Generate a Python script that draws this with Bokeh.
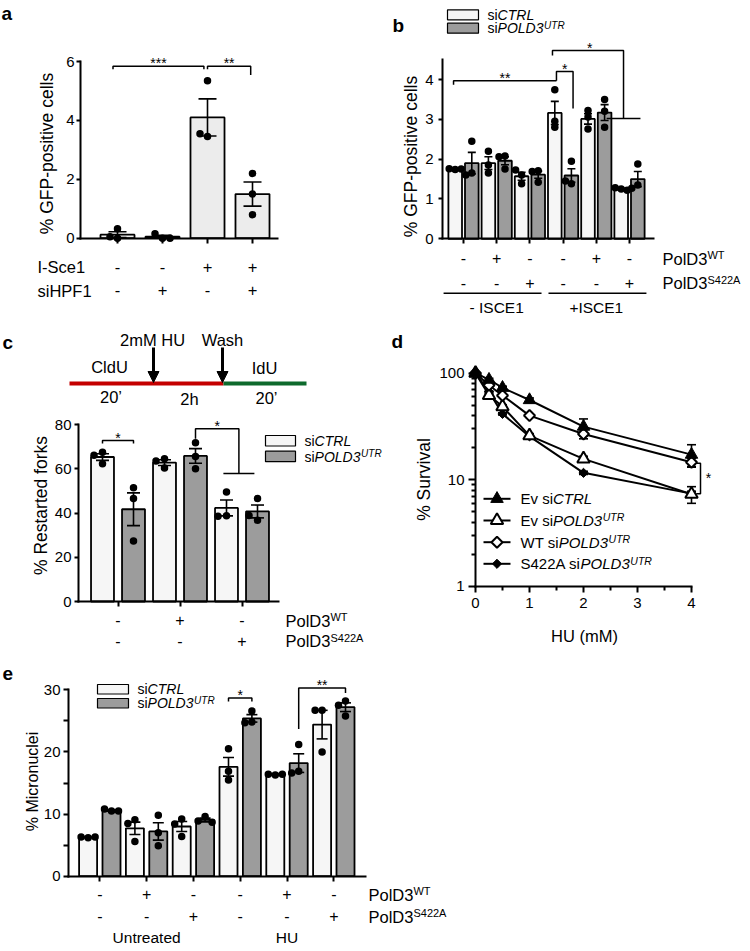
import math
from collections import defaultdict
from bokeh.plotting import figure
from bokeh.models import Range1d, LinearAxis, FixedTicker, LogScale, Arrow, NormalHead, ColumnDataSource
from bokeh.core.properties import value
from bokeh.embed import file_html
from bokeh.resources import INLINE

# ======================= DATA =======================
# (a) % GFP-positive cells
A_ISCE1 = ["-", "-", "+", "+"]
A_SIHPF1 = ["-", "+", "-", "+"]
A_MEAN = [0.12, 0.05, 4.10, 1.50]
A_SEM = [0.10, 0.05, 0.63, 0.41]
A_PTS = [[0.00, 0.32, 0.05], [0.00, 0.15, 0.00], [3.45, 5.35, 3.55], [1.50, 2.20, 0.80]]
A_TICKS = [0, 2, 4, 6]

# (b) % GFP-positive cells, siCTRL / siPOLD3 with PolD3 WT / S422A
B_WT = ["-", "+", "-", "-", "+", "-"]
B_S422A = ["-", "-", "+", "-", "-", "+"]
B_GROUPS = ["- ISCE1", "+ISCE1"]
B_CTRL_MEAN = [1.75, 1.90, 1.57, 3.16, 3.01, 1.25]
B_CTRL_SEM = [0.02, 0.16, 0.10, 0.29, 0.13, 0.02]
B_CTRL_PTS = [[1.74, 1.76, 1.75], [1.85, 2.20, 1.65], [1.60, 1.73, 1.38],
              [2.95, 3.74, 2.80], [3.22, 2.76, 3.06], [1.25, 1.28, 1.22]]
B_POLD3_MEAN = [1.90, 1.96, 1.61, 1.59, 3.17, 1.50]
B_POLD3_SEM = [0.27, 0.10, 0.09, 0.17, 0.20, 0.19]
B_POLD3_PTS = [[1.65, 2.45, 1.60], [2.08, 1.75, 2.06], [1.71, 1.42, 1.69],
               [1.38, 1.95, 1.45], [3.20, 3.50, 2.80], [1.35, 1.88, 1.27]]
B_TICKS = [0, 1, 2, 3, 4]

# (c) % Restarted forks
C_WT = ["-", "+", "-"]
C_S422A = ["-", "-", "+"]
C_CTRL_MEAN = [65.3, 62.8, 42.3]
C_CTRL_SEM = [1.5, 1.3, 3.6]
C_CTRL_PTS = [[67.5, 62.3, 66.1], [64.5, 60.3, 63.5], [49.5, 38.8, 38.5]]
C_POLD3_MEAN = [41.7, 65.8, 40.7]
C_POLD3_SEM = [7.4, 3.3, 2.9]
C_POLD3_PTS = [[51.4, 46.5, 27.3], [71.8, 65.5, 60.0], [46.5, 36.7, 38.9]]
C_TICKS = [0, 20, 40, 60, 80]

# (d) % Survival vs HU (mM)
D_HU = [0, 0.25, 0.5, 1, 2, 4]
D_EV_CTRL = [100, 87, 73, 56, 31.5, 17.2]
D_EV_CTRL_SEM = [0, 2.5, 2.5, 2.5, 5.7, 4.1]
D_EV_POLD3 = [100, 62, 48.6, 25.9, 15.7, 7.3]
D_EV_POLD3_SEM = [0, 2.0, 2.0, 1.2, 0.9, 1.3]
D_WT_POLD3 = [100, 77, 61.7, 40, 26.9, 14.6]
D_WT_POLD3_SEM = [0, 2.0, 2.0, 1.5, 2.7, 1.3]
D_S422A_POLD3 = [100, 67, 41.5, 25.5, 11.6, 7.4]
D_S422A_POLD3_SEM = [0, 1.0, 1.0, 1.0, 0.4, 0.4]
D_XTICKS = [0, 1, 2, 3, 4]
D_YTICKS = [1, 10, 100]

# (e) % Micronuclei
E_WT = ["-", "+", "-", "-", "+", "-"]
E_S422A = ["-", "-", "+", "-", "-", "+"]
E_GROUPS = ["Untreated", "HU"]
E_CTRL_MEAN = [6.25, 7.7, 8.0, 17.6, 16.4, 24.4]
E_CTRL_SEM = [0.05, 1.0, 0.8, 1.5, 0.1, 2.3]
E_CTRL_PTS = [[6.2, 6.3, 6.3], [9.1, 5.6, 8.5], [9.2, 6.4, 8.4],
              [20.5, 16.9, 15.5], [16.3, 16.4, 16.4], [26.7, 20.0, 26.7]]
E_POLD3_MEAN = [10.55, 7.2, 9.05, 25.4, 18.2, 27.2]
E_POLD3_SEM = [0.1, 1.4, 0.3, 0.6, 1.5, 0.7]
E_POLD3_PTS = [[10.5, 10.8, 10.5], [9.8, 7.0, 4.9], [9.6, 8.9, 8.7],
               [26.6, 24.8, 24.7], [21.2, 16.9, 16.6], [28.2, 27.5, 25.8]]
E_TICKS = [0, 10, 20, 30]
E_MINOR = [5, 15, 25]

# significance annotations (data units of each panel)
A_SIG = [([0.9, 0.9, 2.92, 2.92], [5.74, 5.84, 5.84, 5.74], 1.91, "***"),
         ([3.0, 3.0, 3.96, 3.96], [5.74, 5.84, 5.84, 5.54], 3.48, "**")]
B_SIG = [([0.7, 0.7, 3.8], [3.87, 3.97, 3.97], 2.25, "**"),
         ([3.8, 3.8, 4.3, 4.3], [3.97, 4.2, 4.2, 3.27], 4.05, "*"),
         ([3.68, 3.68, 5.82, 5.82], [4.6, 4.73, 4.73, 3.02], 4.8, "*")]
B_TBAR = ([5.31, 6.33], [3.02, 3.02])
C_SIG = [([0.75, 0.75, 1.25, 1.25], [71.4, 72.8, 72.8, 71.4], 1.0, "*"),
         ([2.25, 2.25, 2.95, 2.95], [73.6, 78.1, 78.1, 57.8], 2.6, "*")]
C_TBAR = ([2.7, 3.2], [57.8, 57.8])
E_SIG = [([3.75, 3.75, 4.25, 4.25], [28.1, 28.7, 28.7, 28.1], 4.0, "*"),
         ([5.25, 5.25, 6.25, 6.25], [23.7, 30.3, 30.3, 29.5], 5.75, "**")]

# ======================= LAYOUT =======================
W, H = 750, 948
OFF = 0
FONT = "Liberation Sans"
BLACK = "black"
FILL_A = "#ececec"
FILL_W = "#f6f6f6"
FILL_G = "#9c9c9c"
TICK = 15
BASE_FIX = 0.35   # rendered baseline sits this many em below the given y


def C(r):
    return r - OFF


p = figure(width=W, height=H, output_backend="svg", toolbar_location=None,
           x_range=Range1d(0, W), y_range=Range1d(H, 0),
           x_axis_type=None, y_axis_type=None, min_border=0)
p.outline_line_color = None
p.background_fill_color = "white"
p.border_fill_color = "white"

XR, YR, YS = {}, {}, {}


class Pan:
    def __init__(self, name, xv, xp, yv, yp, log=False):
        self.n = name
        self.log = log
        self.xk = (xp[1] - xp[0]) / (xv[1] - xv[0])
        self.xv0, self.xp0 = xv[0], xp[0]
        f = math.log10 if log else (lambda v: v)
        self.yk = (yp[1] - yp[0]) / (f(yv[1]) - f(yv[0]))
        self.yv0, self.yp0 = f(yv[0]), yp[0]
        XR[name + "x"] = Range1d(start=self.xd(OFF), end=self.xd(OFF + W))
        YR[name + "y"] = Range1d(start=self.yd(OFF + H), end=self.yd(OFF))
        if log:
            YS[name + "y"] = LogScale()

    def xd(self, r):
        return self.xv0 + (r - self.xp0) / self.xk

    def yd(self, r):
        v = self.yv0 + (r - self.yp0) / self.yk
        return 10 ** v if self.log else v

    def yr(self, v):
        f = math.log10(v) if self.log else v
        return self.yp0 + (f - self.yv0) * self.yk

    @property
    def kw(self):
        return dict(x_range_name=self.n + "x", y_range_name=self.n + "y")


CW = {" ": .278, "%": .889, "-": .333, "+": .584, "(": .333, ")": .333, "'": .191, "’": .222, "*": .389,
      "A": .667, "C": .722, "D": .722, "E": .667, "F": .611, "G": .778, "H": .722, "I": .278, "L": .556,
      "M": .833, "O": .778, "P": .667, "R": .722, "S": .667, "T": .611, "U": .722, "W": .944, "V": .667,
      "a": .556, "c": .5, "d": .556, "e": .556, "f": .278, "h": .556, "i": .222, "k": .5, "l": .222,
      "m": .833, "n": .556, "o": .556, "p": .556, "r": .333, "s": .5, "t": .278, "u": .556, "v": .5}


def tw(s, size):
    return sum(CW.get(ch, .556) for ch in s) * size


TXT = defaultdict(lambda: dict(x=[], y=[], text=[]))


def T(x, y, s, size, style="normal", align="left", base="alphabetic", angle=0.0, xr="default", yr="default"):
    """y is the wanted baseline (canvas px) for alphabetic texts."""
    if base == "alphabetic" and yr == "default":
        y -= BASE_FIX * size
    d = TXT[(size, style, align, base, angle, xr, yr)]
    d["x"].append(x)
    d["y"].append(y)
    d["text"].append(s)


def runs(x, yc, parts, align="left", xr="default"):
    """parts: (text, size, style, sup) ; yc = canvas y of the cap centre."""
    bs = parts[0][1]
    yb = yc + 0.358 * bs
    total = sum(tw(t, s) for t, s, st, sup in parts)
    if align == "center":
        x -= total / 2
    elif align == "right":
        x -= total
    for t, s, st, sup in parts:
        y = yb - 0.716 * bs - 1.5 + 0.716 * s if sup else yb
        T(x, y, t, s, st, "left", "alphabetic", xr=xr)
        x += tw(t, s) + (0.6 if st == "italic" and sup is False else 0)


def swarm(vals, ppu, d):
    placed, offs = [], []
    for v in vals:
        yp = v * ppu
        for o in (0, -d, d, -2 * d, 2 * d):
            if all((o - po) ** 2 + (yp - py) ** 2 >= (0.9 * d) ** 2 for po, py in placed):
                break
        placed.append((o, yp))
        offs.append(o)
    return offs


def bars(P, xs, means, sems, pts, fill, width, cap, d, lw=1.8):
    xs = list(xs)
    p.vbar(x=xs, top=means, bottom=0, width=width, fill_color=fill, line_color=BLACK, line_width=lw, **P.kw)
    lo = [m - s for m, s in zip(means, sems)]
    hi = [m + s for m, s in zip(means, sems)]
    px, py = [], []
    for x, vals in zip(xs, pts):
        for o, v in zip(swarm(vals, abs(P.yk), d), vals):
            px.append(x + o / P.xk)
            py.append(v)
    p.scatter(x=px, y=py, marker="circle", size=7.5, fill_color=BLACK, line_color=None, **P.kw)
    p.segment(x0=xs, y0=lo, x1=xs, y1=hi, line_color=BLACK, line_width=1.6, **P.kw)
    p.scatter(x=xs + xs, y=lo + hi, marker="dash", size=cap, line_color=BLACK, line_width=1.6, **P.kw)


def axis(P, side, loc, lo, hi, ticks, minor=(), out=4, mout=3, labels=True, size=TICK, standoff=3):
    ax = LinearAxis(x_range_name=P.n + "x", y_range_name=P.n + "y", fixed_location=loc, bounds=(lo, hi),
                    ticker=FixedTicker(ticks=list(ticks), minor_ticks=list(minor)),
                    axis_line_width=2, axis_line_color=BLACK, axis_line_cap="square",
                    major_tick_line_width=2, major_tick_line_color=BLACK, major_tick_out=out, major_tick_in=0,
                    minor_tick_line_width=2, minor_tick_line_color=BLACK, minor_tick_out=mout, minor_tick_in=0,
                    major_label_standoff=standoff, major_label_text_font=FONT,
                    major_label_text_font_size=f"{size}px" if labels else "0px",
                    major_label_text_color=BLACK if labels else None)
    p.add_layout(ax, side)


def sig(P, items, star_size=14):
    for xs, ys, xm, s in items:
        p.line(xs, ys, line_color=BLACK, line_width=1.5, **P.kw)
        yc = C(P.yr(max(ys)) - 6)
        T(xm, yc + 0.58 * star_size, s, star_size, align="center", xr=P.n + "x")


def sign(P, x, yref, s, size=16.5):
    T(x, C(yref) + 0.33 * size, s, size, align="center", xr=P.n + "x")


def ylabel(xref, yref, s, size):
    T(C(xref), C(yref), s, size, align="center", base="middle", angle=math.pi / 2)


def legend_boxes(xl, xr_, tops, h, texts, size=14):
    p.quad(left=[C(xl)] * 2, right=[C(xr_)] * 2, top=[C(t) for t in tops], bottom=[C(t + h) for t in tops],
           fill_color=[FILL_W, FILL_G], line_color=BLACK, line_width=1.2)
    for t, parts in zip(tops, texts):
        runs(C(xr_ + 9), C(t + h / 2), parts)


def letter(xref, yref, s):
    T(max(C(xref), 0), C(yref) + 0.36 * 19, s, 19, "bold")


CTRL_TXT = [("si", 14, "normal", False), ("CTRL", 14, "italic", False)]
POLD3_TXT = [("si", 14, "normal", False), ("POLD3", 14, "italic", False), ("UTR", 10, "italic", True)]

# ======================= PANEL a =======================
A = Pan("a", (1, 4), (117, 252), (0, 6), (237.7, 61))
AX = list(range(1, len(A_MEAN) + 1))
bars(A, AX, A_MEAN, A_SEM, A_PTS, FILL_A, 0.756, 18, 7.5)
axis(A, "left", A.xd(80), 0, 6, A_TICKS, standoff=2)
axis(A, "below", 0, A.xd(80), A.xd(277), AX, out=5, labels=False)
for x, s1, s2 in zip(AX, A_ISCE1, A_SIHPF1):
    sign(A, x, 266.7, s1)
    sign(A, x, 290, s2)
T(C(37), C(266.7) + 0.358 * 16.5, "I-Sce1", 16.5)
T(C(37), C(290) + 0.358 * 16.5, "siHPF1", 16.5)
ylabel(46, 153, "% GFP-positive cells", 17.5)
sig(A, A_SIG)
letter(1, 13, "a")

# ======================= PANEL b =======================
B = Pan("b", (1, 6), (463, 629), (0, 4), (238.3, 79))
BX = list(range(1, len(B_CTRL_MEAN) + 1))
bars(B, [x - 0.25 for x in BX], B_CTRL_MEAN, B_CTRL_SEM, B_CTRL_PTS, FILL_W, 0.41, 8, 6)
bars(B, [x + 0.25 for x in BX], B_POLD3_MEAN, B_POLD3_SEM, B_POLD3_PTS, FILL_G, 0.41, 8, 6)
axis(B, "left", B.xd(442), 0, 4.5, B_TICKS, standoff=5)
axis(B, "below", 0, B.xd(442), B.xd(653), BX, out=5, labels=False)
for x, s1, s2 in zip(BX, B_WT, B_S422A):
    sign(B, x, 258.3, s1, 16)
    sign(B, x, 282.7, s2, 16)
runs(C(662), C(258.3), [("PolD3", 16.5, "normal", False), ("WT", 11, "normal", True)])
runs(C(662), C(282.7), [("PolD3", 16.5, "normal", False), ("S422A", 11, "normal", True)])
p.segment(x0=[0.4, 3.56], x1=[3.35, 6.51], y0=[C(292.7)] * 2, y1=[C(292.7)] * 2,
          line_color=BLACK, line_width=1.5, x_range_name="bx")
for x, g in zip([2, 5], B_GROUPS):
    T(x, C(306.7) + 0.358 * 15.5, g, 15.5, align="center", xr="bx")
ylabel(410, 156, "% GFP-positive cells", 17.5)
sig(B, B_SIG)
p.line(*B_TBAR, line_color=BLACK, line_width=1.5, **B.kw)
legend_boxes(447, 478, [9.3, 22.7], 10, [CTRL_TXT, POLD3_TXT])
letter(392, 25, "b")

# ======================= PANEL c =======================
# timeline
p.segment(x0=[C(69)], y0=[C(383)], x1=[C(223)], y1=[C(383)], line_color="#c40000", line_width=4)
p.segment(x0=[C(223)], y0=[C(383)], x1=[C(306)], y1=[C(383)], line_color="#0d6a2c", line_width=4)
for xa in (153, 222):
    p.add_layout(Arrow(x_start=C(xa), y_start=C(347), x_end=C(xa), y_end=C(382), line_width=3,
                       line_color=BLACK,
                       end=NormalHead(size=11, fill_color=BLACK, line_color=BLACK, line_width=1)))
for xt, yt, s in [(152, 339, "2mM HU"), (222, 339, "Wash"), (109, 366.7, "CldU"), (264, 367, "IdU"),
                  (110.5, 396.7, "20’"), (189, 398, "2h"), (266, 397, "20’")]:
    T(C(xt), C(yt) + 0.358 * 16.5, s, 16.5, align="center")

Cp = Pan("c", (1, 3), (117.5, 241.5), (0, 80), (601, 424))
CX = list(range(1, len(C_CTRL_MEAN) + 1))
bars(Cp, [x - 0.25 for x in CX], C_CTRL_MEAN, C_CTRL_SEM, C_CTRL_PTS, FILL_W, 0.37, 13, 8.5)
bars(Cp, [x + 0.25 for x in CX], C_POLD3_MEAN, C_POLD3_SEM, C_POLD3_PTS, FILL_G, 0.37, 13, 8.5)
axis(Cp, "left", Cp.xd(78), 0, 80, C_TICKS, standoff=3)
axis(Cp, "below", 0, Cp.xd(78), Cp.xd(278), CX, out=5, labels=False)
for x, s1, s2 in zip(CX, C_WT, C_S422A):
    sign(Cp, x, 620, s1, 16)
    sign(Cp, x, 640.7, s2, 16)
runs(C(285), C(620), [("PolD3", 16.5, "normal", False), ("WT", 11, "normal", True)])
runs(C(285), C(640.7), [("PolD3", 16.5, "normal", False), ("S422A", 11, "normal", True)])
ylabel(40, 505, "% Restarted forks", 17.5)
sig(Cp, C_SIG)
p.line(*C_TBAR, line_color=BLACK, line_width=1.5, **Cp.kw)
legend_boxes(265, 295, [435, 450.7], 10.5, [CTRL_TXT, POLD3_TXT])
letter(2, 342, "c")

# ======================= PANEL d =======================
D = Pan("d", (0, 4), (475, 691), (1, 100), (585.7, 372.7), log=True)
axis(D, "left", 0, 1, 100, D_YTICKS,
     minor=[k * 10 ** e for e in (0, 1) for k in range(2, 10)], out=7, mout=4, standoff=4)
axis(D, "below", 1, 0, 4, D_XTICKS, minor=[0.5, 1.5, 2.5, 3.5], out=6, mout=4, standoff=6)
D_STYLES = [dict(marker="square", angle=math.pi / 4, size=6.5, fill_color=BLACK, line_width=1),
            dict(marker="triangle", size=12.5, fill_color="white", line_width=2),
            dict(marker="square", angle=math.pi / 4, size=7.8, fill_color="white", line_width=2),
            dict(marker="triangle", size=12.5, fill_color=BLACK, line_width=1)]
D_DATA = [(D_S422A_POLD3, D_S422A_POLD3_SEM), (D_EV_POLD3, D_EV_POLD3_SEM),
          (D_WT_POLD3, D_WT_POLD3_SEM), (D_EV_CTRL, D_EV_CTRL_SEM)]
for vals, sem in D_DATA:
    p.line(D_HU, vals, line_color=BLACK, line_width=2, **D.kw)
for vals, sem in D_DATA:
    lo = [v - s for v, s in zip(vals, sem)]
    hi = [v + s for v, s in zip(vals, sem)]
    p.segment(x0=D_HU, y0=lo, x1=D_HU, y1=hi, line_color=BLACK, line_width=1.6, **D.kw)
    p.scatter(x=D_HU + D_HU, y=lo + hi, marker="dash", size=9, line_color=BLACK, line_width=1.6, **D.kw)
for (vals, sem), st in zip(D_DATA, D_STYLES):
    p.scatter(x=D_HU, y=vals, line_color=BLACK, **st, **D.kw)
# legend
D_LEG = [(3, [("Ev si", 15, "normal", False), ("CTRL", 15, "italic", False)]),
         (1, [("Ev si", 15, "normal", False), ("POLD3", 15, "italic", False), ("UTR", 10.5, "italic", True)]),
         (2, [("WT si", 15, "normal", False), ("POLD3", 15, "italic", False), ("UTR", 10.5, "italic", True)]),
         (0, [("S422A si", 15, "normal", False), ("POLD3", 15, "italic", False), ("UTR", 10.5, "italic", True)])]
for row, (si, parts) in zip([498.3, 520, 541.7, 563.3], D_LEG):
    p.segment(x0=[C(483)], y0=[C(row)], x1=[C(510)], y1=[C(row)], line_color=BLACK, line_width=2)
    p.scatter(x=[C(496.5)], y=[C(row)], line_color=BLACK, **D_STYLES[si])
    runs(C(520), C(row), parts)
# significance
xb0, xb1 = D.xd(696), D.xd(700)
p.line([xb0, xb1, xb1, xb0], [D.yd(462.7), D.yd(462.7), D.yd(493.3), D.yd(493.3)],
       line_color=BLACK, line_width=1.5, **D.kw)
T(D.xd(708), C(474) + 0.58 * 14, "*", 14, align="center", xr="dx")
T(C(584), C(635) + 0.358 * 16.5, "HU (mM)", 16.5, align="center")
ylabel(423, 479, "% Survival", 17.5)
letter(391, 341, "d")

# ======================= PANEL e =======================
E = Pan("e", (1, 6), (99.3, 333.3), (0, 30), (875.7, 689.3))
EX = list(range(1, len(E_CTRL_MEAN) + 1))
bars(E, [x - 0.25 for x in EX], E_CTRL_MEAN, E_CTRL_SEM, E_CTRL_PTS, FILL_W, 0.385, 11, 7)
bars(E, [x + 0.25 for x in EX], E_POLD3_MEAN, E_POLD3_SEM, E_POLD3_PTS, FILL_G, 0.385, 11, 7)
axis(E, "left", E.xd(68), 0, 30, E_TICKS, minor=E_MINOR, out=5, mout=5, standoff=3)
axis(E, "below", 0, E.xd(68), E.xd(365), EX, out=5, labels=False)
for x, s1, s2 in zip(EX, E_WT, E_S422A):
    sign(E, x, 894.3, s1, 16)
    sign(E, x, 916, s2, 16)
runs(C(368), C(894.3), [("PolD3", 16.5, "normal", False), ("WT", 11, "normal", True)])
runs(C(368), C(916), [("PolD3", 16.5, "normal", False), ("S422A", 11, "normal", True)])
for x, g in zip([2, 5], E_GROUPS):
    T(x, C(936.5) + 0.358 * 15.5, g, 15.5, align="center", xr="ex")
ylabel(32, 781, "% Micronuclei", 16)
sig(E, E_SIG)
legend_boxes(97, 128, [684, 698], 9.5, [CTRL_TXT, POLD3_TXT])
letter(2, 673, "e")

# ======================= TEXT & RANGES =======================
for (size, style, align, base, angle, xr, yr), d in TXT.items():
    p.text(x="x", y="y", text="text", source=ColumnDataSource(d), text_font=value(FONT),
           text_font_size=value(f"{size}px"), text_font_style=style, text_align=align,
           text_baseline=base, angle=angle, text_color=BLACK, x_range_name=xr, y_range_name=yr)

p.extra_x_ranges = XR
p.extra_y_ranges = YR
p.extra_y_scales = YS

open("out.html", "w").write(file_html(p, INLINE))
